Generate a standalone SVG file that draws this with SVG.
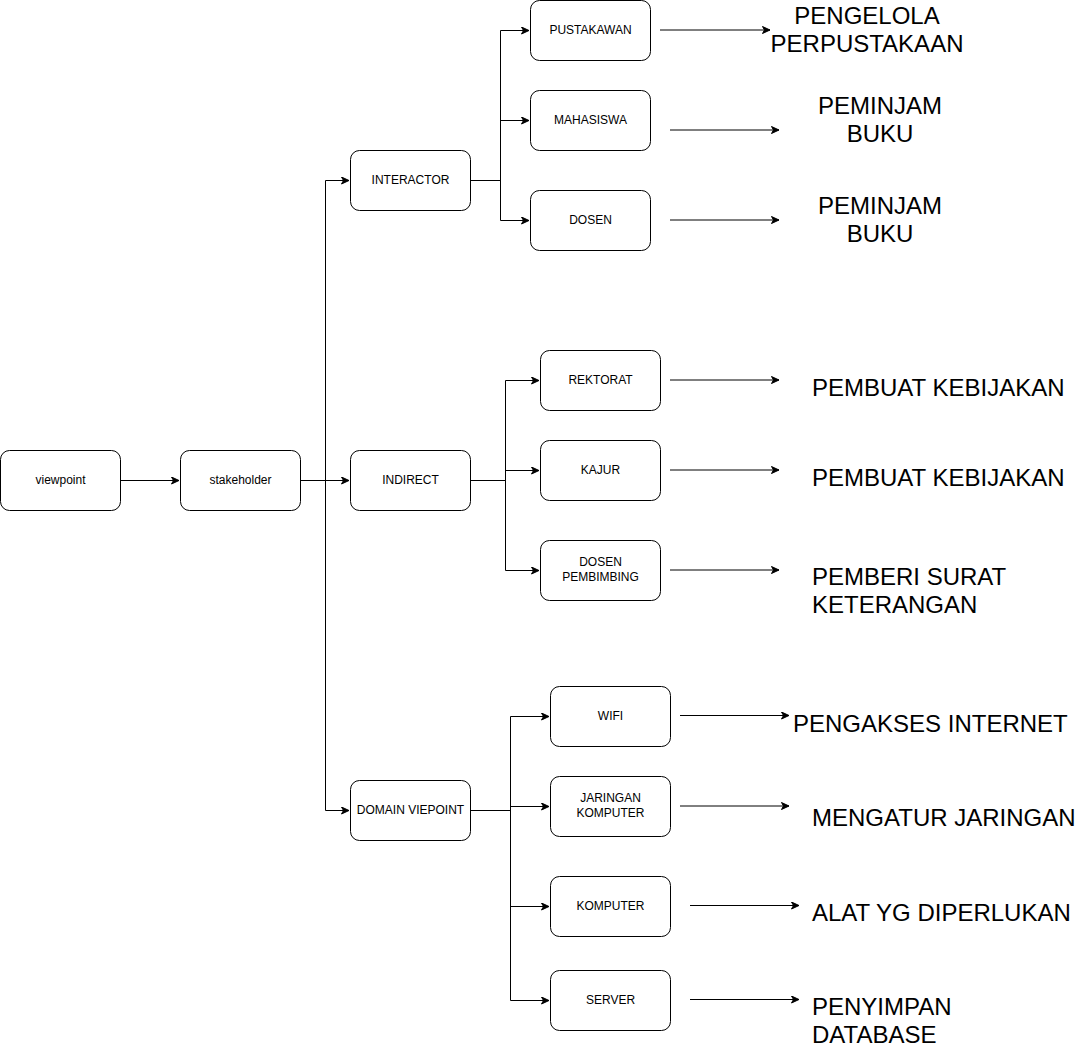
<svg xmlns="http://www.w3.org/2000/svg" width="1091" height="1048" viewBox="0 0 1091 1048">
<defs>
<style>
.node rect{fill:#fff;stroke:#000;stroke-width:1}
.node text{font-family:"Liberation Sans",Arial,sans-serif;font-size:12px;fill:#000;text-anchor:middle}
.edge{fill:none;stroke:#000;stroke-width:1}
.big{font-family:"Liberation Sans",Arial,sans-serif;font-size:24px;fill:#000}
</style>
<marker id="arr" markerUnits="userSpaceOnUse" markerWidth="10" markerHeight="10" refX="8" refY="4" orient="auto">
<path d="M0.5,0.5 L8,4 L0.5,7.5 L2.5,4 Z" fill="#000" stroke="#000" stroke-width="1"/>
</marker>
</defs>
<rect width="1091" height="1048" fill="#fff"/>
<g id="connectors">
<path class="edge" d="M120.5,480.5 H179" marker-end="url(#arr)"/>
<path class="edge" d="M300.5,480.5 H325.5 V180.5 H349" marker-end="url(#arr)"/>
<path class="edge" d="M300.5,480.5 H349" marker-end="url(#arr)"/>
<path class="edge" d="M300.5,480.5 H325.5 V810.5 H349" marker-end="url(#arr)"/>
<path class="edge" d="M470.5,180.5 H500.5 V30.5 H529" marker-end="url(#arr)"/>
<path class="edge" d="M470.5,180.5 H500.5 V120.5 H529" marker-end="url(#arr)"/>
<path class="edge" d="M470.5,180.5 H500.5 V220.5 H529" marker-end="url(#arr)"/>
<path class="edge" d="M470.5,480.5 H505.5 V380.5 H539" marker-end="url(#arr)"/>
<path class="edge" d="M470.5,480.5 H505.5 V470.5 H539" marker-end="url(#arr)"/>
<path class="edge" d="M470.5,480.5 H505.5 V570.5 H539" marker-end="url(#arr)"/>
<path class="edge" d="M470.5,810.5 H510.5 V716.5 H549" marker-end="url(#arr)"/>
<path class="edge" d="M470.5,810.5 H510.5 V806.5 H549" marker-end="url(#arr)"/>
<path class="edge" d="M470.5,810.5 H510.5 V906.5 H549" marker-end="url(#arr)"/>
<path class="edge" d="M470.5,810.5 H510.5 V1000.5 H549" marker-end="url(#arr)"/>
<path class="edge" d="M660,30 H770" marker-end="url(#arr)"/>
<path class="edge" d="M670,130 H779" marker-end="url(#arr)"/>
<path class="edge" d="M670,220 H779" marker-end="url(#arr)"/>
<path class="edge" d="M670,380 H779" marker-end="url(#arr)"/>
<path class="edge" d="M670,470 H779" marker-end="url(#arr)"/>
<path class="edge" d="M670,570 H779" marker-end="url(#arr)"/>
<path class="edge" d="M680,715.5 H789" marker-end="url(#arr)"/>
<path class="edge" d="M680,806 H789" marker-end="url(#arr)"/>
<path class="edge" d="M690,905.5 H799" marker-end="url(#arr)"/>
<path class="edge" d="M690,999.5 H799" marker-end="url(#arr)"/>
</g>
<g id="n-viewpoint" class="node"><rect x="0.5" y="450.5" width="120" height="60" rx="9"/><text x="60.5" y="483.5">viewpoint</text></g>
<g id="n-stakeholder" class="node"><rect x="180.5" y="450.5" width="120" height="60" rx="9"/><text x="240.5" y="483.5">stakeholder</text></g>
<g id="n-interactor" class="node"><rect x="350.5" y="150.5" width="120" height="60" rx="9"/><text x="410.5" y="183.5">INTERACTOR</text></g>
<g id="n-indirect" class="node"><rect x="350.5" y="450.5" width="120" height="60" rx="9"/><text x="410.5" y="483.5">INDIRECT</text></g>
<g id="n-domain" class="node"><rect x="350.5" y="780.5" width="120" height="60" rx="9"/><text x="410.5" y="813.5">DOMAIN VIEPOINT</text></g>
<g id="n-pustakawan" class="node"><rect x="530.5" y="0.5" width="120" height="60" rx="9"/><text x="590.5" y="33.5">PUSTAKAWAN</text></g>
<g id="n-mahasiswa" class="node"><rect x="530.5" y="90.5" width="120" height="60" rx="9"/><text x="590.5" y="123.5">MAHASISWA</text></g>
<g id="n-dosen" class="node"><rect x="530.5" y="190.5" width="120" height="60" rx="9"/><text x="590.5" y="223.5">DOSEN</text></g>
<g id="n-rektorat" class="node"><rect x="540.5" y="350.5" width="120" height="60" rx="9"/><text x="600.5" y="383.5">REKTORAT</text></g>
<g id="n-kajur" class="node"><rect x="540.5" y="440.5" width="120" height="60" rx="9"/><text x="600.5" y="473.5">KAJUR</text></g>
<g id="n-dosenpemb" class="node"><rect x="540.5" y="540.5" width="120" height="60" rx="9"/><text x="600.5" y="566">DOSEN</text><text x="600.5" y="580.5">PEMBIMBING</text></g>
<g id="n-wifi" class="node"><rect x="550.5" y="686.5" width="120" height="60" rx="9"/><text x="610.5" y="719.5">WIFI</text></g>
<g id="n-jaringan" class="node"><rect x="550.5" y="776.5" width="120" height="60" rx="9"/><text x="610.5" y="802">JARINGAN</text><text x="610.5" y="816.5">KOMPUTER</text></g>
<g id="n-komputer" class="node"><rect x="550.5" y="876.5" width="120" height="60" rx="9"/><text x="610.5" y="909.5">KOMPUTER</text></g>
<g id="n-server" class="node"><rect x="550.5" y="970.5" width="120" height="60" rx="9"/><text x="610.5" y="1003.5">SERVER</text></g>
<g id="t-pengelola"><text class="big" x="867" y="24" text-anchor="middle">PENGELOLA</text><text class="big" x="867" y="52" text-anchor="middle">PERPUSTAKAAN</text></g>
<g id="t-peminjam1"><text class="big" x="880" y="114" text-anchor="middle">PEMINJAM</text><text class="big" x="880" y="142" text-anchor="middle">BUKU</text></g>
<g id="t-peminjam2"><text class="big" x="880" y="214" text-anchor="middle">PEMINJAM</text><text class="big" x="880" y="242" text-anchor="middle">BUKU</text></g>
<g id="t-pembuat1"><text class="big" x="812" y="395.5">PEMBUAT KEBIJAKAN</text></g>
<g id="t-pembuat2"><text class="big" x="812" y="485.5">PEMBUAT KEBIJAKAN</text></g>
<g id="t-pemberi"><text class="big" x="812" y="585">PEMBERI SURAT</text><text class="big" x="812" y="613">KETERANGAN</text></g>
<g id="t-pengakses"><text class="big" x="793" y="731.5">PENGAKSES INTERNET</text></g>
<g id="t-mengatur"><text class="big" x="812" y="826">MENGATUR JARINGAN</text></g>
<g id="t-alat"><text class="big" x="812" y="921">ALAT YG DIPERLUKAN</text></g>
<g id="t-penyimpan"><text class="big" x="812" y="1015">PENYIMPAN</text><text class="big" x="812" y="1043">DATABASE</text></g>
</svg>
